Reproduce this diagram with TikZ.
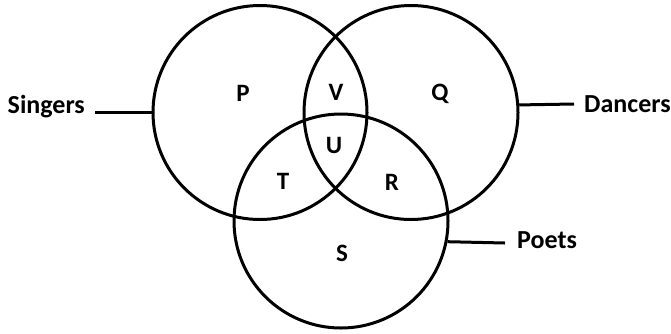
\documentclass[tikz,border=0pt]{standalone}
\usepackage{fontspec}
\setmainfont{Carlito}
\usepackage{tikz}
\usetikzlibrary{positioning}

\begin{document}
\begin{tikzpicture}[
  x=1pt, y=-1pt,
  ring/.style={draw, circle, line width=3pt, minimum size=214pt, inner sep=0pt},
  tag/.style={font=\bfseries\fontsize{26}{30}\selectfont, inner sep=0pt},
  region/.style={font=\bfseries\fontsize{25}{30}\selectfont, inner sep=0pt},
  lead/.style={line width=3pt}
]
\useasboundingbox (0,0) rectangle (671,333);

% the three sets
\node[ring] (sing) at (260,112.5) {};
\node[ring] (danc) at (411,112.5) {};
\node[ring] (poet) at (341,221) {};

% set names with their leader lines
\coordinate (singEnd) at (95,112.5);
\coordinate (dancEnd) at (574,104);
\coordinate (poetEnd) at (505,243);
\node[tag, anchor=base east] (singTag) at (85,113) {Singers};
\node[tag, anchor=base west] (dancTag) at (584,112) {Dancers};
\node[tag, anchor=base west] (poetTag) at (517,248) {Poets};
\draw[lead] (sing.west) -- (singEnd);
\draw[lead] (danc.4.6) -- (dancEnd);
\draw[lead] (poet.-11.9) -- (poetEnd);

% regions
\node[region] (P) at (243,93) {P};
\node[region] (V) at (336,92) {V};
\node[region] (Q) at (440,94) {Q};
\node[region] (U) at (334,145) {U};
\node[region] (T) at (283,181) {T};
\node[region] (R) at (392,182) {R};
\node[region] (S) at (342,253) {S};
\end{tikzpicture}
\end{document}
